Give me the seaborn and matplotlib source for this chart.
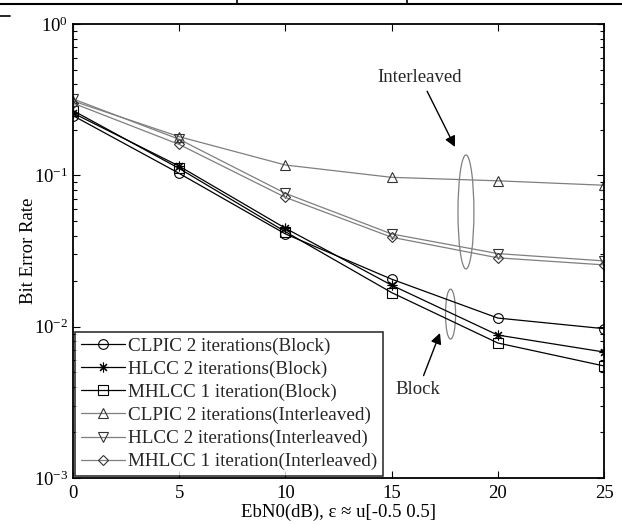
import numpy as np
import pandas as pd
import seaborn as sns
import matplotlib
matplotlib.use("Agg")
import matplotlib.pyplot as plt
from matplotlib.patches import Ellipse
from matplotlib.lines import Line2D
from matplotlib.ticker import LogLocator, NullFormatter, FixedLocator

# ---- data ----
ebn0 = [0, 5, 10, 15, 20, 25]
clpic_block = [0.248, 0.103, 0.041, 0.0206, 0.0114, 0.0097]
hlcc_block = [0.258, 0.115, 0.0447, 0.0188, 0.0088, 0.0068]
mhlcc_block = [0.268, 0.111, 0.0424, 0.0168, 0.0078, 0.0055]
clpic_inter = [0.31, 0.18, 0.117, 0.097, 0.092, 0.086]
hlcc_inter = [0.32, 0.173, 0.076, 0.041, 0.0304, 0.0272]
mhlcc_inter = [0.30, 0.16, 0.0715, 0.039, 0.0285, 0.0256]

labels = [
    "CLPIC 2 iterations(Block)",
    "HLCC 2 iterations(Block)",
    "MHLCC 1 iteration(Block)",
    "CLPIC 2 iterations(Interleaved)",
    "HLCC 2 iterations(Interleaved)",
    "MHLCC 1 iteration(Interleaved)",
]
series = [clpic_block, hlcc_block, mhlcc_block, clpic_inter, hlcc_inter, mhlcc_inter]
markers = ["o", (8, 2, 0), "s", "^", "v", "D"]
line_colors = ["black", "black", "black", "#7f7f7f", "#7f7f7f", "#7f7f7f"]
msizes = [7, 7, 7, 7, 7, 5.5]

sns.set_theme(style="ticks")
plt.rcParams["font.family"] = ["Liberation Serif", "DejaVu Serif"]
plt.rcParams["mathtext.fontset"] = "custom"
plt.rcParams["mathtext.rm"] = "Liberation Serif"
plt.rcParams["mathtext.it"] = "Liberation Serif:italic"

fig = plt.figure(figsize=(6.22, 5.25), dpi=100)
ax = fig.add_axes([73 / 622, 1 - 478 / 525, 531 / 622, 454 / 525])

handles = []
for lab, vals, mk, col, ms in zip(labels, series, markers, line_colors, msizes):
    mec = "black" if col == "black" else "#333333"
    sns.lineplot(x=ebn0, y=vals, ax=ax, marker=mk, color=col, linewidth=0.9,
                 markersize=ms, markerfacecolor="none", markeredgecolor=mec,
                 markeredgewidth=0.8, legend=False)
    handles.append(Line2D([], [], color=col, linewidth=0.9, marker=mk,
                          markersize=ms, markerfacecolor="none", markeredgecolor=mec,
                          markeredgewidth=0.8, label=lab))

ax.set_yscale("log")
ax.set_ylim(1e-3, 1)
ax.set_xlim(0, 25)
ax.xaxis.set_major_locator(FixedLocator(ebn0))
ax.yaxis.set_major_locator(LogLocator(base=10, numticks=10))
ax.yaxis.set_minor_locator(LogLocator(base=10, subs=np.arange(2, 10), numticks=10))
ax.yaxis.set_minor_formatter(NullFormatter())
ax.tick_params(which="both", direction="in", top=True, right=True, labelsize=13.5,
               color="black", labelcolor="black")
ax.tick_params(which="major", length=5, width=0.8)
ax.tick_params(which="minor", length=3, width=0.8)
ax.tick_params(axis="x", pad=5)
for sp in ax.spines.values():
    sp.set_linewidth(1.3)
    sp.set_color("black")

ax.set_xlabel("EbN0(dB), ε ≈ u[-0.5 0.5]", fontsize=13.5, labelpad=1, color="black")
ax.set_ylabel("Bit Error Rate", fontsize=13.5, labelpad=-2, color="black")

leg = ax.legend(handles=handles, loc="lower left", fontsize=13.8, frameon=True,
                fancybox=False, borderaxespad=0.1, handlelength=2.3,
                handletextpad=0.15, labelspacing=0.29, borderpad=0.3)
leg.get_frame().set_edgecolor("black")
leg.get_frame().set_linewidth(1.2)

# ellipses
ax.add_patch(Ellipse((0.740, 0.586), 0.030, 0.251, transform=ax.transAxes,
                     fill=False, edgecolor="#808080", linewidth=0.9))
ax.add_patch(Ellipse((0.711, 0.361), 0.019, 0.110, transform=ax.transAxes,
                     fill=False, edgecolor="#808080", linewidth=0.9))

# annotations
ax.annotate("Interleaved", xy=((455 - 73) / 531, (478 - 147) / 454),
            xytext=((420 - 73) / 531, (478 - 77) / 454), xycoords="axes fraction",
            textcoords="axes fraction", ha="center", va="center", fontsize=13.5,
            arrowprops=dict(arrowstyle="-|>", color="black", lw=1.0,
                            mutation_scale=16, shrinkA=2, shrinkB=0))
ax.annotate("Block", xy=((440 - 73) / 531, (478 - 333) / 454),
            xytext=((418 - 73) / 531, (478 - 390) / 454), xycoords="axes fraction",
            textcoords="axes fraction", ha="center", va="center", fontsize=13.5,
            arrowprops=dict(arrowstyle="-|>", color="black", lw=1.0,
                            mutation_scale=16, shrinkA=2, shrinkB=0))

# cropped table border at top of the figure
fig.add_artist(Line2D([0, 1], [1 - 4 / 525, 1 - 4 / 525], transform=fig.transFigure,
                      color="black", linewidth=1.5))
for xp in (237, 407):
    fig.add_artist(Line2D([xp / 622, xp / 622], [1 - 4 / 525, 1], transform=fig.transFigure,
                          color="black", linewidth=1.2))
fig.add_artist(Line2D([0, 10 / 622], [1 - 16 / 525, 1 - 16 / 525], transform=fig.transFigure,
                      color="black", linewidth=1.2))

fig.savefig("out.png", dpi=100, facecolor="white")
